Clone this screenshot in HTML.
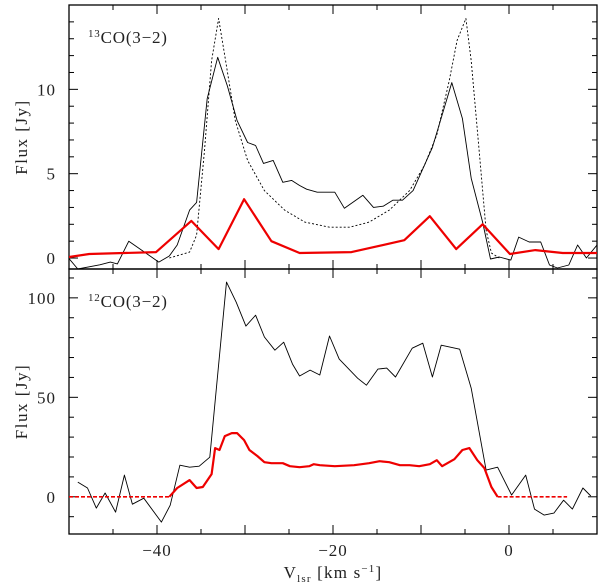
<!DOCTYPE html>
<html><head><meta charset="utf-8"><style>
html,body{margin:0;padding:0;background:#fff;}
svg{display:block;font-family:"Liberation Serif",serif;}
</style></head><body>
<svg id="chart" width="600" height="583" viewBox="0 0 600 583" xmlns="http://www.w3.org/2000/svg"></svg>
<script>
// top panel data (13CO)
const topObsV=[-50.06,-49.0,-46.5,-45.3,-44.5,-43.2,-39.8,-38.6,-37.7,-36.3,-35.5,-34.3,-33.1,-32.0,-30.9,-29.7,-28.8,-27.9,-26.8,-25.7,-24.7,-23.8,-23.0,-21.8,-19.8,-18.7,-16.6,-15.4,-14.3,-13.2,-12.1,-10.9,-8.7,-6.5,-5.3,-4.3,-3.0,-2.1,-1.1,0.2,1.1,2.3,3.6,4.6,5.5,6.8,7.8,8.8,10];
const topObsF=[0,-0.65,-0.4,-0.24,-0.35,1.0,-0.24,0.12,0.77,2.84,3.3,9.45,11.9,10.2,8.15,6.85,6.67,5.61,5.79,4.49,4.6,4.3,4.08,3.9,3.9,2.95,3.72,3.0,3.07,3.43,3.43,4.0,6.56,10.4,8.27,4.73,2.13,-0.06,0.06,-0.12,1.24,0.95,0.95,-0.41,-0.59,-0.41,0.77,0,0.77];
const topModelV=[-38.6,-36.3,-35.5,-34.6,-33.8,-33.0,-32.2,-31.1,-29.7,-27.8,-25.5,-23.2,-20.4,-18.1,-15.9,-13.6,-11.3,-9.6,-8.2,-6.8,-5.9,-4.9,-4.3,-3.4,-2.6,-2.0,-1.1];
const topModelF=[0,0.35,1.36,6.38,11.7,14.2,11.7,8.15,5.79,4.0,2.84,2.13,1.83,1.83,2.13,2.84,4.0,5.5,7.3,10.5,12.9,14.2,11.7,6.4,1.65,0.3,0];
const topRedV=[-50,-47.7,-40.1,-36.1,-33.0,-30.1,-27.0,-23.8,-17.9,-11.9,-9.0,-6.0,-3.0,0.1,3.0,6.1,10];
const topRedF=[0.06,0.24,0.35,2.2,0.53,3.49,1.0,0.3,0.35,1.06,2.48,0.53,2.0,0.24,0.47,0.3,0.3];
// bottom panel data (12CO)
const botObsV=[-49.0,-47.9,-46.9,-45.9,-44.7,-43.7,-42.8,-41.5,-39.5,-38.5,-37.4,-36.3,-35.2,-34.0,-32.1,-31.0,-29.9,-28.8,-27.8,-26.6,-25.6,-24.6,-23.8,-22.6,-21.5,-20.4,-19.3,-17.2,-16.2,-14.9,-13.9,-12.9,-11.0,-9.8,-8.7,-7.7,-5.6,-4.3,-2.6,-1.3,0.3,1.9,2.9,4.0,5.1,6.2,7.2,8.4,9.3];
const botObsF=[7.4,4.4,-5.7,1.9,-7.7,10.9,-3.7,-0.7,-12.7,-4.2,15.9,14.9,15.4,19.9,107.9,97.8,85.8,91.3,80.3,73.7,77.7,66.7,60.7,63.7,61.2,80.8,69.2,59.6,56.1,64.2,64.7,60.2,74.7,77.2,60.2,76.2,74.2,54.6,13.4,14.9,0.9,10.9,-6.2,-9.2,-8.2,-1.7,-6.2,4.4,0.4];
const botRedV=[-38.6,-37.7,-36.3,-35.5,-34.8,-33.8,-33.4,-32.9,-32.3,-31.5,-30.9,-30.1,-29.5,-28.6,-27.8,-27.0,-25.7,-24.9,-23.8,-22.7,-22.2,-21.5,-19.8,-17.6,-15.9,-14.7,-13.6,-12.4,-11.3,-10.2,-9.0,-8.2,-7.6,-6.2,-5.3,-4.5,-3.6,-2.8,-2.0,-1.3];
const botRedF=[0,4.4,8.4,4.4,4.9,11.4,24.5,23.5,30.5,32,32,28.5,23.5,20.5,17.4,16.9,16.9,15.4,14.9,15.4,16.4,15.9,15.4,15.9,16.9,17.9,17.4,15.9,15.9,15.4,16.4,18.4,15.4,18.9,23.5,24.5,18.4,14.4,4.9,0];
const botRedDashV=[[-50,-38.6],[-1.3,6.6]];
const xTicks=[-40,-20,0];
const topYTicks=[0,5,10];
const botYTicks=[0,50,100];

const NS="http://www.w3.org/2000/svg";
const svg=document.getElementById('chart');
const X0=69,X1=597,XMIN=-50,XMAX=10;
const xs=v=>X0+(v-XMIN)/(XMAX-XMIN)*(X1-X0);
const panels={top:{y0:5,y1:269,min:-0.65,max:15,minor:1},bot:{y0:269,y1:534,min:-18.7,max:114.5,minor:10}};
function ys(p,f){const P=panels[p];return P.y1-(f-P.min)/(P.max-P.min)*(P.y1-P.y0);}
function el(tag,attrs,parent){const e=document.createElementNS(NS,tag);for(const k in attrs)e.setAttribute(k,attrs[k]);(parent||svg).appendChild(e);return e;}
const defs=el('defs',{});
['top','bot'].forEach(p=>{const P=panels[p];const c=el('clipPath',{id:'clip-'+p},defs);el('rect',{x:X0,y:P.y0,width:X1-X0,height:P.y1-P.y0},c);});
function line(p,V,F,stroke,w,dash,name){
  const pts=V.map((v,i)=>xs(v).toFixed(1)+','+ys(p,F[i]).toFixed(1)).join(' ');
  const a={points:pts,fill:'none',stroke:stroke,'stroke-width':w,'clip-path':'url(#clip-'+p+')','stroke-linejoin':'round'};
  if(dash)a['stroke-dasharray']=dash;
  const e=el('polyline',a);
  
  
}
function axes(p,yt,label,nm){
  const P=panels[p];
  const g=el('g',{});
  
  
  el('rect',{x:X0,y:P.y0,width:X1-X0,height:P.y1-P.y0,fill:'none',stroke:'#000','stroke-width':1.3},g);
  for(let v=XMIN;v<=XMAX;v+=5){const x=xs(v);const L=(v%10===0)?9:5;
    el('line',{x1:x,x2:x,y1:P.y1,y2:P.y1-L,stroke:'#000'},g);el('line',{x1:x,x2:x,y1:P.y0,y2:P.y0+L,stroke:'#000'},g);}
  for(let f=Math.ceil(P.min/P.minor)*P.minor;f<=P.max;f+=P.minor){const y=ys(p,f);const L=(Math.abs(f%(P.minor*5))<1e-6)?9:5;
    el('line',{x1:X0,x2:X0+L,y1:y,y2:y,stroke:'#000'},g);el('line',{x1:X1,x2:X1-L,y1:y,y2:y,stroke:'#000'},g);}
  yt.forEach(t=>{const tx=el('text',{x:X0-13,y:ys(p,t)+6,'text-anchor':'end','font-size':17,'letter-spacing':1,fill:'#222'},g);tx.textContent=t;
    });
  const ly=(P.y0+P.y1)/2;
  const t=el('text',{x:27,y:ly,transform:'rotate(-90 27 '+ly+')','text-anchor':'middle','font-size':17,'letter-spacing':1.5,fill:'#222'},g);
  t.textContent='Flux [Jy]';
  
  const lb=el('text',{x:88,y:P.y0+38,'font-size':17,'letter-spacing':0.8,fill:'#222'},g);
  lb.innerHTML='<tspan font-size="11" dy="-6">'+label[0]+'</tspan><tspan dy="6">'+label[1]+'</tspan>';
  
}
axes('top',topYTicks,['13','CO(3\u22122)'],'top-panel');
axes('bot',botYTicks,['12','CO(3\u22122)'],'bottom-panel');
line('top',topModelV,topModelF,'#000',0.9,'2,2','model-13co-line');
line('top',topObsV,topObsF,'#000',0.9,null,'observed-13co-line');
line('top',topRedV,topRedF,'#e00',2.2,null,'red-13co-line');
line('bot',botObsV,botObsF,'#000',0.9,null,'observed-12co-line');
botRedDashV.forEach(r=>line('bot',r,[0,0],'#e00',1.6,'4,2','red-12co-zero-dashed'));
line('bot',botRedV,botRedF,'#e00',2.2,null,'red-12co-line');
xTicks.forEach(t=>{const tx=el('text',{x:xs(t),y:556,'text-anchor':'middle','font-size':17,'letter-spacing':1,fill:'#222'});tx.textContent=t<0?'\u2212'+(-t):t;
  });
const xt=el('text',{x:333,y:578,'text-anchor':'middle','font-size':17,'letter-spacing':1.2,fill:'#222'});
xt.innerHTML='V<tspan font-size="11" dy="4">lsr</tspan><tspan dy="-4"> [km  s</tspan><tspan font-size="11" dy="-6">\u22121</tspan><tspan dy="6">]</tspan>';


</script>
</body></html>
